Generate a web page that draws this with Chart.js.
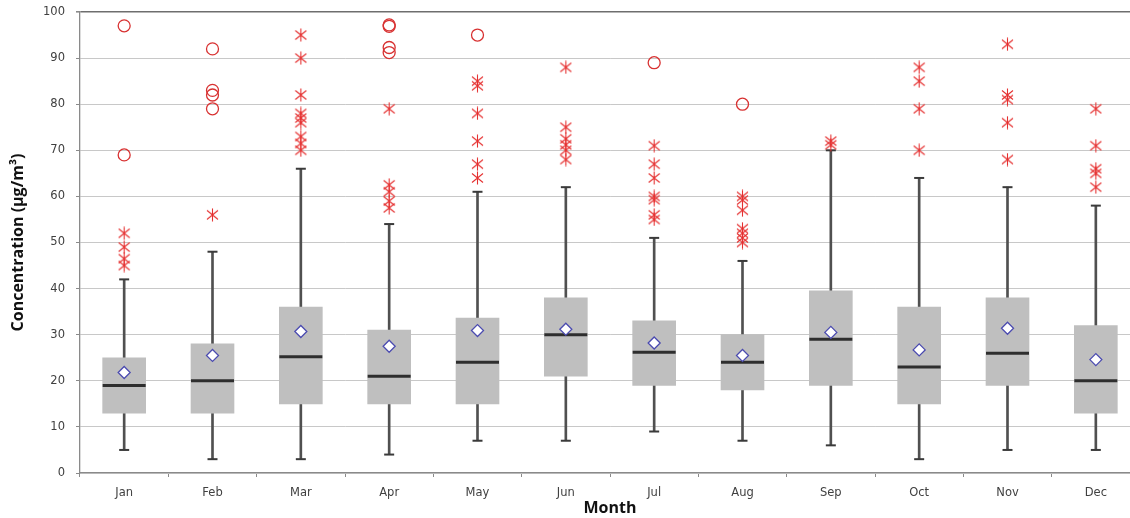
<!DOCTYPE html>
<html>
<head>
<meta charset="utf-8">
<script src="https://cdn.jsdelivr.net/npm/chart.js@4/dist/chart.umd.min.js"></script>
<style>
  html, body { margin: 0; padding: 0; background: #fff; overflow: hidden; width: 1130px; height: 518px; }
  #wrap { position: absolute; left: 0; top: 0; width: 1150px; height: 518px; }
  #c { display: block; }
</style>
</head>
<body>
<div id="wrap"><canvas id="c" width="1150" height="518"></canvas></div>
<script>
// Monthly concentration distribution (box = Q1..Q3, whiskers, median, mean, outliers)
const months = ['Jan', 'Feb', 'Mar', 'Apr', 'May', 'Jun', 'Jul', 'Aug', 'Sep', 'Oct', 'Nov', 'Dec'];
const whiskerLow  = [5, 3, 3, 4, 7, 7, 9, 7, 6, 3, 5, 5];
const q1          = [13, 13, 15, 15, 15, 21, 19, 18, 19, 15, 19, 13];
const median      = [19, 20, 25.2, 21, 24, 30, 26.2, 24, 29, 23, 26, 20];
const q3          = [25, 28, 36, 31, 33.6, 38, 33, 30, 39.5, 36, 38, 32];
const whiskerHigh = [42, 48, 66, 54, 61, 62, 51, 46, 70, 64, 62, 58];
const mean        = [21.8, 25.5, 30.7, 27.5, 30.9, 31.2, 28.2, 25.5, 30.5, 26.7, 31.4, 24.6];
// outliers (asterisks) and extreme values (circles), per month
const outliers = [
  [52, 49, 46.5, 45],
  [56],
  [95, 90, 82, 78, 77, 76, 73, 71.5, 70],
  [79, 62.5, 61, 59, 57.5],
  [85, 84, 78, 72, 67, 64],
  [88, 75, 72.5, 71.2, 70, 68],
  [71, 67, 64, 60, 59.3, 56, 55],
  [60, 59.2, 57, 53, 52, 51, 50],
  [72, 71.2],
  [88, 85, 79, 70],
  [93, 82, 81, 76, 68],
  [79, 71, 66, 65, 62]
];
const extremes = [
  [97, 69],
  [92, 83, 82, 79],
  [],
  [97.2, 96.9, 92.3, 91.2],
  [95],
  [],
  [89],
  [80],
  [], [], [], []
];
const yTicks = { min: 0, max: 100, step: 10 };

// six-armed asterisk marker
function makeAsterisk(color) {
  const c = document.createElement('canvas');
  c.width = 13; c.height = 14;
  const g = c.getContext('2d');
  g.strokeStyle = color;
  g.lineWidth = 1.1;
  g.beginPath();
  g.moveTo(6.5, 0.5); g.lineTo(6.5, 13.5);
  g.moveTo(1, 2.5); g.lineTo(12, 11.5);
  g.moveTo(12, 2.5); g.lineTo(1, 11.5);
  g.stroke();
  return c;
}
const asterisk = makeAsterisk('#e53030');

const flat = (groups) => groups.flatMap((vals, i) => vals.map(v => ({ x: months[i], y: v })));

const tickFont = { family: 'DejaVu Sans', size: 11.5 };
const titleFont = { family: 'Open Sans', size: 16, weight: 'bold' };

new Chart(document.getElementById('c'), {
  type: 'bar',
  data: {
    labels: months,
    datasets: [
      {
        type: 'bar', label: 'whisker', order: 10, grouped: false,
        data: months.map((m, i) => [whiskerLow[i], whiskerHigh[i]]),
        backgroundColor: '#505050', barThickness: 2
      },
      {
        type: 'bar', label: 'box', order: 9, grouped: false,
        data: months.map((m, i) => [q1[i], q3[i]]),
        backgroundColor: '#bfbfbf', barThickness: 43
      },
      {
        type: 'line', label: 'caps', order: 8, showLine: false,
        data: [...flat(whiskerLow.map(v => [v])), ...flat(whiskerHigh.map(v => [v]))],
        pointStyle: 'line', pointRadius: 5, pointBorderWidth: 2, borderColor: '#3a3a3a'
      },
      {
        type: 'line', label: 'median', order: 7, showLine: false,
        data: median,
        pointStyle: 'line', pointRadius: 21.5, pointBorderWidth: 3, borderColor: '#2e2e2e'
      },
      {
        type: 'line', label: 'mean', order: 6, showLine: false,
        data: mean,
        pointStyle: 'rectRot', pointRadius: 6, pointBorderWidth: 1.3,
        borderColor: '#4b4bb0', backgroundColor: '#ffffff'
      },
      {
        type: 'line', label: 'outliers', order: 5, showLine: false,
        data: flat(outliers),
        pointStyle: asterisk, pointRadius: 6
      },
      {
        type: 'line', label: 'extremes', order: 4, showLine: false,
        data: flat(extremes),
        pointStyle: 'circle', pointRadius: 6, pointBorderWidth: 1.3,
        borderColor: '#d83232', backgroundColor: 'rgba(0,0,0,0)'
      }
    ]
  },
  options: {
    responsive: false,
    maintainAspectRatio: false,
    devicePixelRatio: 1,
    animation: false,
    events: [],
    // the canvas is wider than the page, so December's slot runs off the right edge
    layout: { autoPadding: false, padding: { top: 12, right: 10, left: 0, bottom: 0 } },
    plugins: { legend: { display: false }, tooltip: { enabled: false } },
    scales: {
      x: {
        offset: true,
        grid: { offset: true, drawOnChartArea: false, drawTicks: true, tickLength: 4, tickColor: '#8a8a8a' },
        border: { color: '#8a8a8a', width: 1.3 },
        ticks: { font: tickFont, color: '#404040', padding: 9, maxRotation: 0 },
        title: { display: true, text: 'Month', font: titleFont, color: '#111', padding: { top: 0, bottom: 0 } },
        afterFit(s) { s.height = 45; s.paddingLeft = 0; s.paddingRight = 0; }
      },
      y: {
        min: yTicks.min, max: yTicks.max,
        ticks: { stepSize: yTicks.step, font: tickFont, color: '#404040', padding: 11 },
        grid: {
          color: c => (c.tick && c.tick.value === yTicks.max) ? '#6e6e6e' : '#c8c8c8',
          lineWidth: c => (c.tick && c.tick.value === yTicks.max) ? 1.6 : 1,
          tickLength: 4, tickColor: '#8a8a8a'
        },
        border: { color: '#8a8a8a', width: 1.3 },
        title: { display: true, text: 'Concentration (µg/m³)', font: titleFont, color: '#111', padding: { top: 9, bottom: 0 } },
        afterFit(s) { s.width = 80; s.paddingTop = 0; s.paddingBottom = 0; }
      }
    }
  }
});
</script>
</body>
</html>
